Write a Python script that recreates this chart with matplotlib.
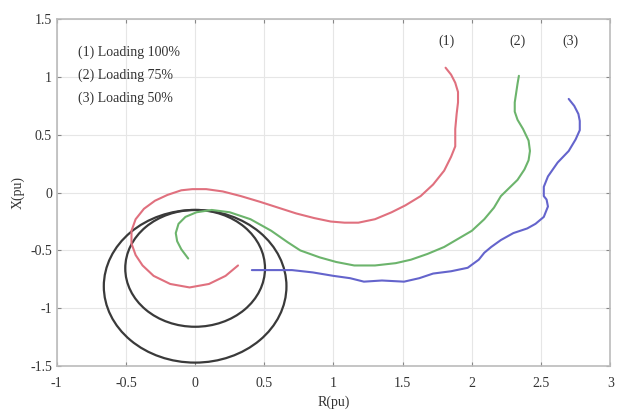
import numpy as np
import matplotlib
matplotlib.use('Agg')
from matplotlib import pyplot as plt
from matplotlib.patches import Circle

# trajectory (1) loading 100%
r1 = [0.31, 0.22, 0.10, -0.04, -0.18, -0.30, -0.38, -0.43, -0.46, -0.46, -0.43, -0.37, -0.29, -0.20,
      -0.10, -0.02, 0.08, 0.20, 0.33, 0.47, 0.60, 0.73, 0.86, 0.98, 1.08, 1.18, 1.30, 1.42, 1.52,
      1.63, 1.72, 1.80, 1.85, 1.88, 1.88, 1.88, 1.89, 1.90, 1.90, 1.88, 1.85, 1.81]
x1 = [-0.63, -0.72, -0.79, -0.82, -0.79, -0.72, -0.63, -0.54, -0.44, -0.33, -0.23, -0.14, -0.07, -0.02,
      0.02, 0.03, 0.03, 0.01, -0.03, -0.08, -0.13, -0.18, -0.22, -0.25, -0.26, -0.26, -0.23, -0.17, -0.11,
      -0.03, 0.07, 0.19, 0.31, 0.40, 0.46, 0.55, 0.68, 0.78, 0.87, 0.95, 1.02, 1.08]

# trajectory (2) loading 75%
r2 = [-0.05, -0.10, -0.13, -0.14, -0.12, -0.07, 0.01, 0.12, 0.25, 0.40, 0.55, 0.67, 0.76,
      0.90, 1.02, 1.15, 1.30, 1.45, 1.56, 1.68, 1.80, 1.90, 2.00, 2.09, 2.16, 2.21,
      2.27, 2.33, 2.38, 2.41, 2.42, 2.41, 2.37, 2.33, 2.31, 2.31, 2.32, 2.33, 2.34]
x2 = [-0.57, -0.49, -0.42, -0.35, -0.27, -0.21, -0.17, -0.15, -0.17, -0.23, -0.33, -0.43, -0.50,
      -0.56, -0.60, -0.63, -0.63, -0.61, -0.58, -0.53, -0.47, -0.40, -0.33, -0.23, -0.13, -0.03,
      0.04, 0.11, 0.20, 0.28, 0.36, 0.45, 0.55, 0.63, 0.70, 0.78, 0.86, 0.94, 1.01]

# trajectory (3) loading 50%
r3 = [0.41, 0.55, 0.70, 0.85, 1.00, 1.12, 1.22, 1.35, 1.51, 1.62, 1.72, 1.85, 1.97,
      2.05, 2.09, 2.14, 2.21, 2.30, 2.40, 2.46, 2.52, 2.55, 2.54, 2.52, 2.52, 2.55,
      2.62, 2.70, 2.75, 2.78, 2.78, 2.77, 2.74, 2.70]
x3 = [-0.67, -0.67, -0.67, -0.69, -0.72, -0.74, -0.77, -0.76, -0.77, -0.74, -0.70, -0.68, -0.65,
      -0.58, -0.52, -0.47, -0.41, -0.35, -0.31, -0.27, -0.21, -0.12, -0.06, -0.03, 0.05, 0.14,
      0.26, 0.36, 0.46, 0.54, 0.62, 0.68, 0.75, 0.81]

# relay circles (centre R, centre X, radius)
circ_r = [0.0, 0.0]
circ_x = [-0.81, -0.655]
circ_rad = [0.66, 0.505]

labels = ['(1)', '(2)', '(3)']
label_r = [1.82, 2.33, 2.71]
legend_lines = ['(1) Loading 100%', '(2) Loading 75%', '(3) Loading 50%']

plt.rcParams['font.family'] = ['Liberation Serif', 'DejaVu Serif']
fig = plt.figure(figsize=(6.17, 4.16), dpi=100)
ax = fig.add_axes([0.092, 0.12, 0.897, 0.834])

ax.plot(r1, x1, color='#e0707e', lw=1.5, solid_capstyle='round')
ax.plot(r2, x2, color='#6cb46c', lw=1.5, solid_capstyle='round')
ax.plot(r3, x3, color='#6464cc', lw=1.5, solid_capstyle='round')
for cr, cx, rad in zip(circ_r, circ_x, circ_rad):
    ax.add_patch(Circle((cr, cx), rad, fill=False, ec='#3a3a3a', lw=1.6))

for t, xr in zip(labels, label_r):
    ax.text(xr, 1.31, t, ha='center', va='center', fontsize=10, color='#333333')
for i, t in enumerate(legend_lines):
    ax.text(-0.85, 1.21 - i * 0.195, t, ha='left', va='center', fontsize=10, color='#333333')

ax.set_xlim(-1, 3)
ax.set_ylim(-1.5, 1.5)
ax.set_xticks([-1, -0.5, 0, 0.5, 1, 1.5, 2, 2.5, 3])
ax.set_xticklabels(['-1', '-0.5', '0', '0.5', '1', '1.5', '2', '2.5', '3'])
ax.set_yticks([-1.5, -1, -0.5, 0, 0.5, 1, 1.5])
ax.set_yticklabels(['-1.5', '-1', '-0.5', '0', '0.5', '1', '1.5'])
ax.grid(True, color='#e6e6e6', lw=0.8)
ax.set_axisbelow(True)
ax.tick_params(direction='in', top=True, right=True, color='#888888', labelcolor='#333333',
               labelsize=10, length=3)
ax.tick_params(axis='x', pad=8)
for s in ax.spines.values():
    s.set_color('#bbbbbb')
    s.set_linewidth(1.2)

ax.set_xlabel('R(pu)', fontsize=10, color='#333333', labelpad=4)
ax.set_ylabel('X(pu)', fontsize=10, color='#333333', labelpad=4)

fig.savefig('out.png', dpi=100)
